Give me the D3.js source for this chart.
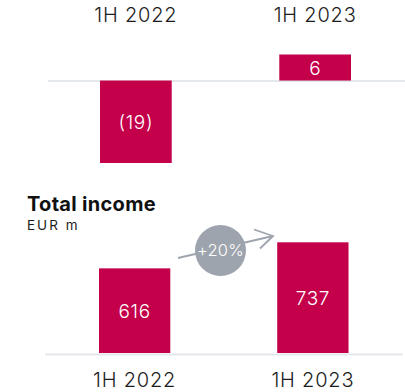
<!DOCTYPE html>
<html>
<head>
<meta charset="utf-8">
<script src="https://cdn.jsdelivr.net/npm/d3@7"></script>
<style>
  html, body { margin: 0; padding: 0; background: #fff; }
  svg { display: block; font-family: "Inter", "Open Sans", sans-serif; }
</style>
</head>
<body>
<svg id="chart" width="405" height="392"></svg>
<script>
// Periods shown on both panels
const categories = ["1H 2022", "1H 2023"];
// Upper panel values (EUR m) and their printed labels
const topValues = [-19, 6];
const topLabels = ["(19)", "6"];
// Total income (EUR m)
const incomeValues = [616, 737];
const incomeLabels = ["616", "737"];
const growthLabel = "+20%";
const incomeTitle = "Total income";
const incomeUnit = "EUR m";

const barColor = "#c4004a";
const axisColor = "#e4e7eb";
const textColor = "#1c1c1c";
const bubbleColor = "#9ea4ad";

const svg = d3.select("#chart");

// ---- Upper panel ----
const xTop = d3.scaleBand().domain(categories).range([100, 351]).paddingInner(0.6);
const yTop = d3.scaleLinear().domain([-19, 6]).range([163, 54.5]);

svg.append("line")
  .attr("x1", 48).attr("x2", 405)
  .attr("y1", yTop(0) + 0.5).attr("y2", yTop(0) + 0.5)
  .attr("stroke", axisColor).attr("stroke-width", 2);

svg.append("g").selectAll("rect")
  .data(topValues)
  .join("rect")
  .attr("x", (d, i) => xTop(categories[i]))
  .attr("width", xTop.bandwidth())
  .attr("y", d => yTop(Math.max(0, d)))
  .attr("height", d => Math.abs(yTop(d) - yTop(0)))
  .attr("fill", barColor);

svg.append("g").selectAll("text")
  .data(topValues)
  .join("text")
  .attr("x", (d, i) => xTop(categories[i]) + xTop.bandwidth() / 2)
  .attr("y", d => (yTop(d) + yTop(0)) / 2 + 7)
  .attr("text-anchor", "middle")
  .attr("font-size", 19).attr("font-weight", 300)
  .attr("letter-spacing", 0.6)
  .attr("fill", "#fff")
  .text((d, i) => topLabels[i]);

svg.append("g").selectAll("text")
  .data(categories)
  .join("text")
  .attr("x", d => xTop(d) + xTop.bandwidth() / 2)
  .attr("y", 22)
  .attr("text-anchor", "middle")
  .attr("font-size", 20).attr("font-weight", 300)
  .attr("letter-spacing", 0.8)
  .attr("fill", textColor)
  .text(d => d);

// ---- Total income panel ----
svg.append("text")
  .attr("x", 27).attr("y", 210.5)
  .attr("font-size", 20).attr("font-weight", 700)
  .attr("letter-spacing", 0.3)
  .attr("fill", "#111")
  .text(incomeTitle);

svg.append("text")
  .attr("x", 27).attr("y", 230)
  .attr("font-size", 13.5).attr("font-weight", 400)
  .attr("letter-spacing", 2)
  .attr("fill", textColor)
  .text(incomeUnit);

const xBot = d3.scaleBand().domain(categories).range([99, 348.5]).paddingInner(0.6);
const yBot = d3.scaleLinear().domain([223, 737]).range([353, 242.3]);

// Growth arrow, drawn beneath the bubble
const a0 = [178, 258], a1 = [273, 236];
svg.append("line")
  .attr("x1", a0[0]).attr("y1", a0[1]).attr("x2", a1[0]).attr("y2", a1[1])
  .attr("stroke", bubbleColor).attr("stroke-width", 1.8);
svg.append("polyline")
  .attr("points", [[254, 229.5], a1, [260, 248.5]].map(p => p.join(",")).join(" "))
  .attr("fill", "none").attr("stroke", bubbleColor)
  .attr("stroke-width", 1.8).attr("stroke-linejoin", "miter");

svg.append("circle")
  .attr("cx", 220.5).attr("cy", 250.5).attr("r", 25.5)
  .attr("fill", bubbleColor);
svg.append("text")
  .attr("x", 220.5).attr("y", 256)
  .attr("text-anchor", "middle")
  .attr("font-size", 16.5).attr("font-weight", 300)
  .attr("letter-spacing", 0.2)
  .attr("fill", "#fff")
  .text(growthLabel);

svg.append("line")
  .attr("x1", 45).attr("x2", 403)
  .attr("y1", 354.5).attr("y2", 354.5)
  .attr("stroke", axisColor).attr("stroke-width", 2);

svg.append("g").selectAll("rect")
  .data(incomeValues)
  .join("rect")
  .attr("x", (d, i) => xBot(categories[i]))
  .attr("width", xBot.bandwidth())
  .attr("y", d => yBot(d))
  .attr("height", d => yBot.range()[0] - yBot(d))
  .attr("fill", barColor);

svg.append("g").selectAll("text")
  .data(incomeValues)
  .join("text")
  .attr("x", (d, i) => xBot(categories[i]) + xBot.bandwidth() / 2)
  .attr("y", d => (yBot(d) + yBot.range()[0]) / 2 + 7)
  .attr("text-anchor", "middle")
  .attr("font-size", 19).attr("font-weight", 300)
  .attr("letter-spacing", 0.6)
  .attr("fill", "#fff")
  .text((d, i) => incomeLabels[i]);

svg.append("g").selectAll("text")
  .data(categories)
  .join("text")
  .attr("x", d => xBot(d) + xBot.bandwidth() / 2)
  .attr("y", 387)
  .attr("text-anchor", "middle")
  .attr("font-size", 20).attr("font-weight", 300)
  .attr("letter-spacing", 0.8)
  .attr("fill", textColor)
  .text(d => d);
</script>
</body>
</html>
